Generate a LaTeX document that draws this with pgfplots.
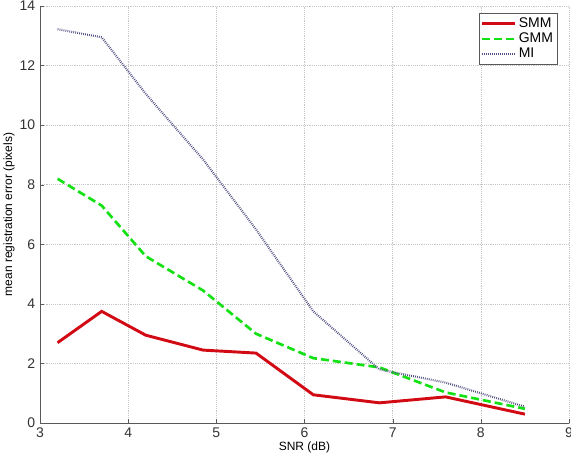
\documentclass[border=0pt]{standalone}
\usepackage{fontspec}
\setmainfont{Liberation Sans}
\usepackage{pgfplots}
\pgfplotsset{compat=1.18}
\begin{document}
\begin{tikzpicture}
\begin{axis}[scale only axis,width=397pt,height=313pt,
xmin=3,xmax=9,ymin=0,ymax=14,
xtick={3,4,5,6,7,8,9},ytick={0,2,4,6,8,10,12,14},
axis lines=left,axis line style={gray!70!black,-},
tick style={gray!70!black},tick align=inside,major tick length=3pt,
grid=major,major grid style={densely dotted,gray!45},
ticklabel style={font=\fontsize{10.5}{12}\selectfont,text=black!80},
/pgf/number format/assume math mode=true,
xlabel={SNR (dB)},ylabel={mean registration error (pixels)},
label style={font=\fontsize{9}{10}\selectfont},
xlabel style={yshift=4pt},ylabel style={yshift=-3pt},
legend style={at={(rel axis cs:0.979,0.983)},anchor=north east,font=\fontsize{10.5}{12}\selectfont,
draw=gray!70!black,inner sep=1.5pt,row sep=-1.5pt},
legend cell align=left,
legend image code/.code={\draw[#1] (0cm,0cm) -- (0.85cm,0cm);}]
\coordinate (bl) at (rel axis cs:0,0);
\coordinate (tr) at (rel axis cs:1,1);
\addplot[color={rgb,255:red,210;green,10;blue,20},line width=2.2pt] coordinates {
(3.2,2.7)(3.7,3.75)(4.2,2.95)(4.85,2.45)(5.45,2.35)(6.1,0.95)(6.85,0.68)(7.6,0.88)(8.5,0.3)};
\addlegendentry{SMM}
\addplot[color={rgb,255:red,20;green,225;blue,20},line width=2pt,dash pattern=on 6pt off 3pt] coordinates {
(3.2,8.2)(3.7,7.3)(4.2,5.6)(4.85,4.45)(5.45,3.0)(6.1,2.18)(6.85,1.87)(7.6,1.03)(8.5,0.48)};
\addlegendentry{GMM}
\addplot[color={rgb,255:red,80;green,80;blue,130},line width=1.6pt,dash pattern=on 0.6pt off 0.9pt] coordinates {
(3.2,13.22)(3.7,12.95)(4.2,11.05)(4.85,8.85)(5.45,6.5)(6.1,3.75)(6.85,1.8)(7.6,1.36)(8.5,0.55)};
\addlegendentry{MI}
\end{axis}
\pgfresetboundingbox
\path ([xshift=-30pt,yshift=-25.5pt]bl) rectangle ([xshift=1.5pt,yshift=4.5pt]tr);
\end{tikzpicture}
\end{document}
